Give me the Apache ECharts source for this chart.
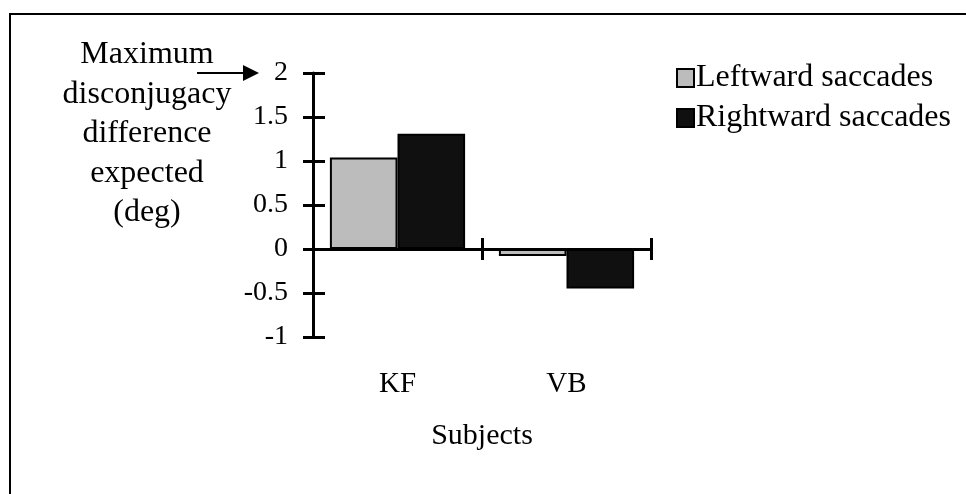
<!DOCTYPE html>
<html>
<head>
<meta charset="utf-8">
<script src="https://cdn.jsdelivr.net/npm/echarts@6/dist/echarts.min.js"></script>
<style>
  html, body { margin: 0; padding: 0; background: #fff; }
  #chart { width: 966px; height: 494px; }
</style>
</head>
<body>
<div id="chart"></div>
<script>
const subjects = ['KF', 'VB'];
const seriesNames = ['Leftward saccades', 'Rightward saccades'];
const leftward = [1.04, -0.08];
const rightward = [1.31, -0.45];
const yMin = -1, yMax = 2, yInterval = 0.5;
const yTitleLines = ['Maximum', 'disconjugacy', 'difference', 'expected', '(deg)'];
const xTitle = 'Subjects';

const FONT = '"Liberation Serif", "Times New Roman", serif';
const chart = echarts.init(document.getElementById('chart'), null, { renderer: 'canvas' });

const valueAxisBase = {
  type: 'value', min: yMin, max: yMax, interval: yInterval,
  position: 'left', splitLine: { show: false }
};

chart.setOption({
  animation: false,
  backgroundColor: '#ffffff',
  grid: { left: 313, top: 73, width: 338, height: 264, containLabel: false },
  legend: {
    orient: 'vertical', left: 671, top: 57,
    itemWidth: 17, itemHeight: 18, itemGap: 8,
    icon: 'rect',
    data: seriesNames,
    textStyle: { fontFamily: FONT, fontSize: 32, color: '#000', lineHeight: 32, padding: [0, 0, 0, -3] }
  },
  xAxis: [
    {
      type: 'category', data: subjects, position: 'bottom',
      axisLine: { onZero: true, lineStyle: { color: '#000', width: 3 } },
      axisTick: { show: true, inside: false, length: 11, lineStyle: { color: '#000', width: 3 } },
      axisLabel: { show: false }, splitLine: { show: false }
    },
    {
      type: 'category', data: subjects, position: 'bottom',
      axisLine: { show: false, onZero: true },
      axisTick: { show: true, inside: true, length: 11, lineStyle: { color: '#000', width: 3 } },
      axisLabel: { show: false }, splitLine: { show: false }
    },
    {
      type: 'category', data: subjects, position: 'bottom',
      axisLine: { show: false, onZero: false },
      axisTick: { show: false },
      axisLabel: { show: true, margin: 33, fontFamily: FONT, fontSize: 29, color: '#000', lineHeight: 29 },
      name: xTitle, nameLocation: 'middle', nameGap: 84,
      nameTextStyle: { fontFamily: FONT, fontSize: 30, color: '#000', lineHeight: 30 }
    }
  ],
  yAxis: [
    Object.assign({}, valueAxisBase, {
      axisLine: { show: true, onZero: false, lineStyle: { color: '#000', width: 3 } },
      axisTick: { show: true, inside: false, length: 10, lineStyle: { color: '#000', width: 3 } },
      axisLabel: { show: true, margin: 25, fontFamily: FONT, fontSize: 28, color: '#000' }
    }),
    Object.assign({}, valueAxisBase, {
      axisLine: { show: false },
      axisTick: { show: true, inside: true, length: 12, lineStyle: { color: '#000', width: 3 } },
      axisLabel: { show: false }
    })
  ],
  series: [
    {
      name: seriesNames[0], type: 'bar', data: leftward,
      xAxisIndex: 0, yAxisIndex: 0,
      barGap: '0%', barCategoryGap: '20%',
      itemStyle: { color: '#bcbcbc', borderColor: '#000', borderWidth: 2 }
    },
    {
      name: seriesNames[1], type: 'bar', data: rightward,
      xAxisIndex: 0, yAxisIndex: 0,
      barGap: '0%', barCategoryGap: '20%',
      itemStyle: { color: '#101010', borderColor: '#000', borderWidth: 2 }
    }
  ],
  graphic: [
    {
      type: 'rect', silent: true,
      shape: { x: 10, y: 14, width: 1000, height: 600 },
      style: { fill: 'none', stroke: '#000', lineWidth: 2 }
    },
    {
      type: 'text', silent: true, x: 147, y: 35,
      style: {
        text: yTitleLines.join('\n'), fontFamily: FONT, fontSize: 32, lineHeight: 39.5,
        fill: '#000', align: 'center', verticalAlign: 'top'
      }
    },
    {
      type: 'line', silent: true,
      shape: { x1: 197, y1: 73, x2: 246, y2: 73 },
      style: { stroke: '#000', lineWidth: 2 }
    },
    {
      type: 'polygon', silent: true,
      shape: { points: [[243, 65], [259, 73], [243, 81]] },
      style: { fill: '#000' }
    }
  ]
});
</script>
</body>
</html>
